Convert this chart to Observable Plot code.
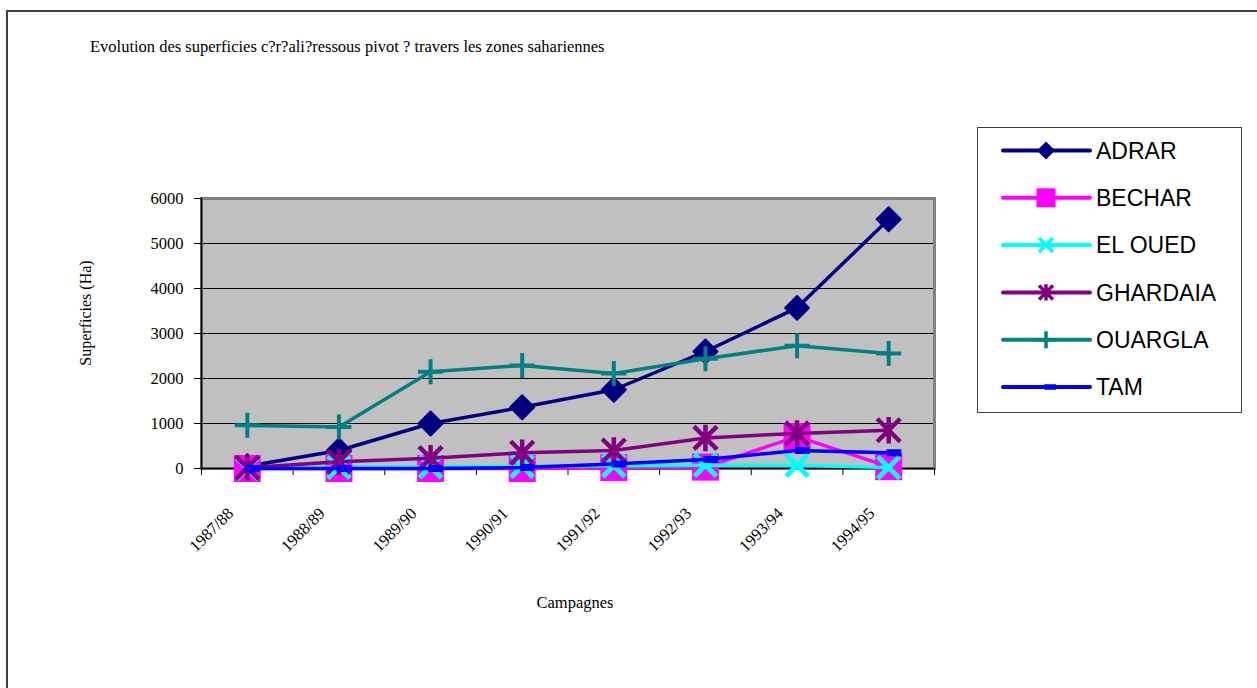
<!DOCTYPE html>
<html>
<head>
<meta charset="utf-8">
<script src="https://cdn.jsdelivr.net/npm/d3@7"></script>
<script src="https://cdn.jsdelivr.net/npm/@observablehq/plot@0.6"></script>
<style>
  body { margin: 0; background: #fff; }
  #chart { position: relative; width: 1257px; height: 688px; overflow: hidden; background: #fff; }
  #chart > svg.plot-main { position: absolute; left: 0; top: 0; overflow: visible; }
  #sheet { position: absolute; left: 6px; top: 10px; width: 1400px; height: 800px;
           border-left: 2px solid #404040; border-top: 2px solid #404040; }
</style>
</head>
<body>
<div id="chart"><div id="sheet"></div></div>
<script>
// Campaigns (x categories) and irrigated area per wilaya, in hectares
const campagnes = ["1987/88", "1988/89", "1989/90", "1990/91", "1991/92", "1992/93", "1993/94", "1994/95"];
const adrar    = [50, 400, 1000, 1360, 1750, 2600, 3570, 5540];
const bechar   = [0, 0, 0, 0, 20, 30, 710, 40];
const elOued   = [0, 30, 40, 50, 60, 70, 70, 20];
const ghardaia = [20, 150, 230, 350, 400, 680, 780, 850];
const ouargla  = [960, 920, 2150, 2290, 2110, 2440, 2730, 2555];
const tam      = [0, 0, 0, 20, 100, 200, 400, 350];
const yTicks   = [0, 1000, 2000, 3000, 4000, 5000, 6000];

const seriesNames  = ["ADRAR", "BECHAR", "EL OUED", "GHARDAIA", "OUARGLA", "TAM"];
const seriesValues = [adrar, bechar, elOued, ghardaia, ouargla, tam];

// Marker shapes in the spreadsheet style; size = PI * r^2 as in d3.symbol
const rOf = (size) => Math.sqrt(size / Math.PI);
const symDiamond = { draw(c, s) { const r = rOf(s); c.moveTo(0, -r); c.lineTo(r, 0); c.lineTo(0, r); c.lineTo(-r, 0); c.closePath(); } };
const symSquare  = { draw(c, s) { const r = rOf(s); c.rect(-r, -r, 2 * r, 2 * r); } };
const symCross   = { draw(c, s) { const r = rOf(s); c.moveTo(-r, -r); c.lineTo(r, r); c.moveTo(r, -r); c.lineTo(-r, r); } };
const symStar    = { draw(c, s) { const r = rOf(s); c.moveTo(-r, -r); c.lineTo(r, r); c.moveTo(r, -r); c.lineTo(-r, r); c.moveTo(0, -r * 1.15); c.lineTo(0, r * 1.15); } };
const symPlus    = { draw(c, s) { const r = rOf(s); c.moveTo(0, -r); c.lineTo(0, r); c.moveTo(-r, 0); c.lineTo(r, 0); } };
const symDash    = { draw(c, s) { const r = rOf(s); c.rect(-0.3 * r, -0.5 * r, 2.1 * r, r); } };

const styles = [
  { color: "#000080", symbol: symDiamond, filled: true,  r: 12,   sw: 2,   lr: 8,   lsw: 1.5 },
  { color: "#FF00FF", symbol: symSquare,  filled: true,  r: 13.5, sw: 0,   lr: 9.5, lsw: 0 },
  { color: "#00FFFF", symbol: symCross,   filled: false, r: 11,   sw: 5,   lr: 7,   lsw: 3.5 },
  { color: "#800080", symbol: symStar,    filled: false, r: 11.5, sw: 4.5, lr: 7,   lsw: 3.5 },
  { color: "#008080", symbol: symPlus,    filled: false, r: 12.5, sw: 4,   lr: 8.5, lsw: 3.5 },
  { color: "#0000FF", symbol: symDash,    filled: true,  r: 7,    sw: 0,   lr: 5.5, lsw: 0 }
];

const serif = "'Liberation Serif', 'Times New Roman', serif";
const sans = "'Liberation Sans', Arial, sans-serif";
const fs = 16.5;
const boundaries = d3.range(campagnes.length + 1).map(i => i - 0.5);

const seriesMarks = seriesValues.flatMap((vals, k) => {
  const st = styles[k];
  const rows = vals.map((v, j) => ({ j, v }));
  return [
    Plot.line(rows, { x: "j", y: "v", stroke: st.color, strokeWidth: 3.5, strokeLinejoin: "round" }),
    Plot.dot(rows, {
      x: "j", y: "v", r: st.r, symbol: st.symbol,
      fill: st.filled ? st.color : "none",
      stroke: st.sw > 0 ? st.color : "none",
      strokeWidth: st.sw, strokeLinejoin: "round"
    })
  ];
});

const plot = Plot.plot({
  width: 1257,
  height: 688,
  marginLeft: 201,
  marginRight: 323,
  marginTop: 198,
  marginBottom: 220,
  className: "plot-main",
  style: { fontFamily: serif, fontSize: fs + "px", color: "#000", background: "transparent", overflow: "visible" },
  x: { type: "linear", domain: [-0.5, campagnes.length - 0.5] },
  y: { domain: [0, 6000] },
  marks: [
    Plot.frame({ fill: "#C0C0C0" }),
    Plot.gridY(yTicks.slice(1, -1), { stroke: "#000", strokeOpacity: 1 }),
    Plot.frame({ stroke: "#808080", strokeWidth: 3 }),
    Plot.ruleX([-0.5], { stroke: "#000", strokeWidth: 1.5 }),
    Plot.ruleY([0], { stroke: "#000", strokeWidth: 1.5 }),
    Plot.axisY({ ticks: yTicks, tickSize: 7, tickPadding: 11, tickFormat: d3.format("d"), label: null,
                 fontSize: fs, fontFamily: serif, stroke: "#000" }),
    Plot.axisX({ ticks: boundaries, tickSize: 7, tickFormat: () => "", label: null, stroke: "#000" }),
    Plot.text(campagnes.map((c, j) => ({ c, j })), {
      x: "j", text: "c", frameAnchor: "bottom", rotate: -45, textAnchor: "end",
      dx: -13, dy: 46, fontSize: fs, fontFamily: serif, fill: "#000"
    }),
    ...seriesMarks
  ]
});
plot.classList.add("plot-main");

const chart = document.getElementById("chart");
chart.appendChild(plot);

// Title and axis titles
const svg = d3.select(plot);
svg.append("text").attr("x", 90).attr("y", 52).attr("text-anchor", "start")
  .attr("font-family", serif).attr("font-size", fs).attr("fill", "#000")
  .text("Evolution des superficies c?r?ali?ressous pivot ? travers les zones sahariennes");
svg.append("text").attr("transform", "translate(91,313) rotate(-90)")
  .attr("text-anchor", "middle").attr("font-family", serif).attr("font-size", 16).attr("fill", "#000")
  .text("Superficies (Ha)");
svg.append("text").attr("x", 575).attr("y", 608)
  .attr("text-anchor", "middle").attr("font-family", serif).attr("font-size", fs).attr("fill", "#000")
  .text("Campagnes");

// Legend box
const lw = 265, lh = 286;
const leg = d3.select(chart).append("svg").attr("id", "legend").attr("width", lw).attr("height", lh)
  .style("position", "absolute").style("left", "977px").style("top", "127px");
leg.append("rect").attr("x", 0.5).attr("y", 0.5).attr("width", lw - 1).attr("height", lh - 1)
  .attr("fill", "#fff").attr("stroke", "#404040").attr("stroke-width", 1);
seriesNames.forEach((name, k) => {
  const st = styles[k];
  const cy = 23.5 + k * 47.3;
  const g = leg.append("g").attr("transform", `translate(0,${cy})`);
  g.append("line").attr("x1", 26).attr("x2", 113).attr("y1", 0).attr("y2", 0)
    .attr("stroke", st.color).attr("stroke-width", 4).attr("stroke-linecap", "round");
  g.append("path").attr("transform", "translate(69,0)")
    .attr("d", d3.symbol().type(st.symbol).size(Math.PI * st.lr * st.lr)())
    .attr("fill", st.filled ? st.color : "none")
    .attr("stroke", st.lsw > 0 ? st.color : "none")
    .attr("stroke-width", st.lsw).attr("stroke-linejoin", "round");
  g.append("text").attr("x", 119).attr("y", 0).attr("dy", "0.36em")
    .attr("font-family", sans).attr("font-size", 23).attr("fill", "#000").text(name);
});
</script>
</body>
</html>
